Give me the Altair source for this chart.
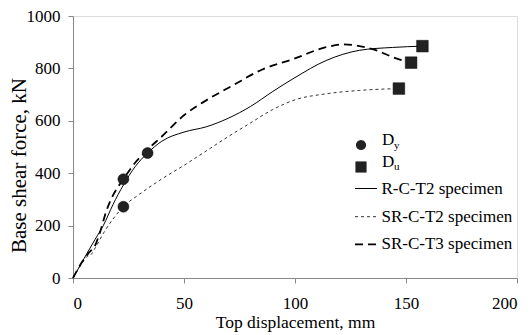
import altair as alt
import pandas as pd

# R-C-T2 specimen (solid)
rct2_x = [0, 5, 10, 13.7, 18, 22.7, 28, 33.6, 40, 50, 60, 70, 80, 90, 100, 114, 129, 144, 157.4]
rct2_y = [0, 75, 148, 201, 280, 355, 425, 477, 522, 557, 577, 610, 655, 712, 765, 830, 869, 880, 885]
# SR-C-T2 specimen (thin dashed)
srct2_x = [0, 4, 6, 8, 10, 14, 18, 22.7, 30, 40, 50, 60, 70, 80, 90, 100, 114, 129, 146.8]
srct2_y = [0, 55, 80, 88, 115, 175, 225, 272, 320, 378, 430, 485, 540, 592, 643, 680, 703, 716, 723]
# SR-C-T3 specimen (heavy dashed)
srct3_x = [0, 4, 7, 10, 12, 15, 18, 22.7, 28, 33.6, 40, 50, 60, 72, 85, 99, 114, 122, 129, 137, 144, 152.3]
srct3_y = [0, 60, 95, 125, 170, 255, 315, 377, 440, 490, 540, 621, 678, 735, 795, 835, 881, 892, 885, 868, 843, 822]
# markers
dy_x = [22.7, 33.6, 22.7]
dy_y = [377, 477, 272]
du_x = [157.4, 152.3, 146.8]
du_y = [885, 822, 723]

x_ticks = [0, 50, 100, 150, 200]
y_ticks = [0, 200, 400, 600, 800, 1000]

FONT = "Liberation Serif"

xs = alt.Scale(domain=[0, 200], nice=False)
ys = alt.Scale(domain=[0, 1000], nice=False)

xaxis = alt.Axis(values=x_ticks, format="d", title="Top displacement, mm", grid=False,
                 labelFont=FONT, labelFontSize=17, labelColor="black", labelPadding=12,
                 titleFont=FONT, titleFontSize=17.5, titleFontWeight="normal", titleColor="black",
                 titleX=222, titleY=35, titleBaseline="top", titleAlign="center")
yaxis = alt.Axis(values=y_ticks, format="d", title="Base shear force, kN", grid=False,
                 labelFont=FONT, labelFontSize=17, labelColor="black", labelPadding=8,
                 titleFont=FONT, titleFontSize=21, titleFontWeight="normal", titleColor="black",
                 titleX=-65, titleY=149, titleAngle=-90, titleBaseline="top", titleAlign="center")

X = alt.X("d:Q", scale=xs, axis=xaxis)
Y = alt.Y("f:Q", scale=ys, axis=yaxis)


def line_df(xv, yv):
    return pd.DataFrame({"d": xv, "f": yv})


l1 = alt.Chart(line_df(rct2_x, rct2_y)).mark_line(
    color="black", strokeWidth=1, interpolate="monotone").encode(x=X, y=Y)
l2 = alt.Chart(line_df(srct2_x, srct2_y)).mark_line(
    color="#333", strokeWidth=1, strokeDash=[3, 3], interpolate="monotone").encode(x=X, y=Y)
l3 = alt.Chart(line_df(srct3_x, srct3_y)).mark_line(
    color="black", strokeWidth=1.8, strokeDash=[8, 5], interpolate="monotone").encode(x=X, y=Y)

p1 = alt.Chart(line_df(dy_x, dy_y)).mark_point(
    shape="circle", filled=True, size=120, color="#222", stroke="black", strokeWidth=0.5, opacity=1).encode(x=X, y=Y)
p2 = alt.Chart(line_df(du_x, du_y)).mark_point(
    shape="square", filled=True, size=135, color="#222", stroke="black", strokeWidth=0.5, opacity=1).encode(x=X, y=Y)

# manual legend
one = pd.DataFrame({"k": [0]})
leg = []
leg.append(alt.Chart(one).mark_point(shape="circle", filled=True, size=105, color="#222", opacity=1)
           .encode(x=alt.value(288), y=alt.value(129)))
leg.append(alt.Chart(one).mark_point(shape="square", filled=True, size=125, color="#222", opacity=1)
           .encode(x=alt.value(288), y=alt.value(151)))
leg.append(alt.Chart(one).mark_text(text="D", align="left", baseline="middle", font=FONT, fontSize=17, color="black")
           .encode(x=alt.value(309), y=alt.value(124)))
leg.append(alt.Chart(one).mark_text(text="y", align="left", baseline="middle", font=FONT, fontSize=11, color="black")
           .encode(x=alt.value(321), y=alt.value(130)))
leg.append(alt.Chart(one).mark_text(text="D", align="left", baseline="middle", font=FONT, fontSize=17, color="black")
           .encode(x=alt.value(309), y=alt.value(146)))
leg.append(alt.Chart(one).mark_text(text="u", align="left", baseline="middle", font=FONT, fontSize=11, color="black")
           .encode(x=alt.value(321), y=alt.value(151)))

leg_items = [
    ("R-C-T2 specimen", 172.5, "black", 1, None),
    ("SR-C-T2 specimen", 200.7, "#333", 1, [3, 3]),
    ("SR-C-T3 specimen", 228.3, "black", 1.8, [8, 5]),
]
for label, yy, col, w, dash in leg_items:
    kw = dict(color=col, strokeWidth=w)
    if dash:
        kw["strokeDash"] = dash
    leg.append(alt.Chart(one).mark_rule(**kw)
               .encode(x=alt.value(282), x2=alt.value(304), y=alt.value(yy)))
    leg.append(alt.Chart(one).mark_text(text=label, align="left", baseline="middle", font=FONT,
                                        fontSize=17, color="black")
               .encode(x=alt.value(308.5), y=alt.value(yy)))

chart = alt.layer(l2, l1, l3, p1, p2, *leg).properties(
    width=444, height=262,
    autosize=alt.AutoSizeParams(type="none"),
    padding={"left": 65, "top": 8, "right": 6, "bottom": 55},
).configure_view(stroke=None).configure(background="white", font=FONT).configure_axis(
    domainColor="#888", tickColor="#888", tickSize=5,
    labelFont=FONT, labelFontSize=17, labelColor="black",
    titleFont=FONT, titleFontWeight="normal", titleColor="black",
)

chart.save("out.html", embed_options={"renderer": "svg", "actions": False})
